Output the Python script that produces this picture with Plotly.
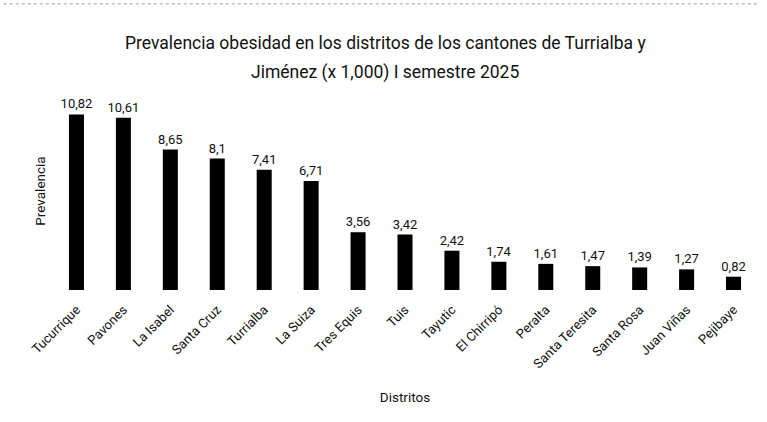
import plotly.graph_objects as go

distritos = ["Tucurrique", "Pavones", "La Isabel", "Santa Cruz", "Turrialba", "La Suiza",
             "Tres Equis", "Tuis", "Tayutic", "El Chirripó", "Peralta", "Santa Teresita",
             "Santa Rosa", "Juan Viñas", "Pejibaye"]
prevalencia = [10.82, 10.61, 8.65, 8.1, 7.41, 6.71, 3.56, 3.42, 2.42, 1.74, 1.61, 1.47, 1.39, 1.27, 0.82]

titulo = ["Prevalencia obesidad en los distritos de los cantones de Turrialba y",
          "Jiménez (x 1,000) I semestre 2025"]

FONT = "Roboto"

fig = go.Figure(go.Bar(
    x=distritos,
    y=prevalencia,
    marker=dict(color="#000000", line=dict(width=0)),
    texttemplate="%{y}",
    textposition="outside",
    constraintext="none",
    textfont=dict(family=FONT, size=13, color="#111111"),
    cliponaxis=False,
))

fig.update_layout(
    width=767, height=422,
    separators=",.",
    paper_bgcolor="white", plot_bgcolor="white",
    margin=dict(l=53, r=10, t=92, b=132),
    bargap=0.68,
    showlegend=False,
    font=dict(family=FONT, color="#111111"),
)

# two-line title, placed line by line for wider spacing
for i, linea in enumerate(titulo):
    fig.add_annotation(text=linea, xref="paper", yref="paper", x=0.472, y=1.0 + (92 - 43 - 29 * i) / 200,
                       xanchor="center", yanchor="middle", showarrow=False,
                       font=dict(family=FONT, size=17.5, color="#111111"))

fig.update_xaxes(
    tickangle=-45, tickfont=dict(family=FONT, size=13, color="#111111"),
    showline=False, ticks="outside", ticklen=6, tickcolor="rgba(0,0,0,0)", showgrid=False,
    title=dict(text="Distritos", font=dict(family=FONT, size=13.5), standoff=22),
)
fig.update_yaxes(
    range=[0, 12.2], showticklabels=False, showgrid=False, zeroline=False,
    showline=False, ticks="",
    title=dict(text="Prevalencia", font=dict(family=FONT, size=13.5), standoff=3),
)

# dotted frame edge along the top of the page
fig.add_shape(type="line", xref="paper", yref="paper", x0=-0.07, x1=1.0, y0=1.445, y1=1.445,
              line=dict(color="#9a9a9a", width=1, dash="dot"))

fig.write_html("out.html")
